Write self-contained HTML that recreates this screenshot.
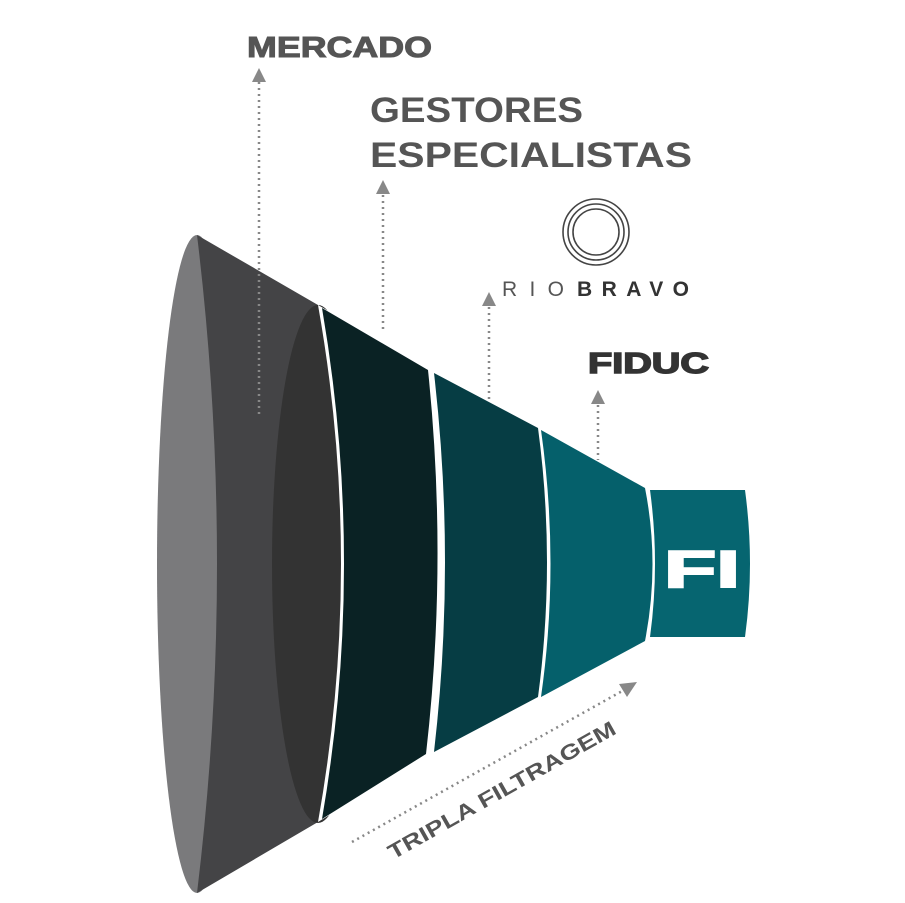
<!DOCTYPE html>
<html><head><meta charset="utf-8"><style>
html,body{margin:0;padding:0;background:#fff;}
svg{display:block;}
text{font-family:"Liberation Sans",sans-serif;font-weight:bold;}
</style></head><body>
<svg width="905" height="903" viewBox="0 0 905 903" xmlns="http://www.w3.org/2000/svg">
<ellipse cx="197" cy="564" rx="40" ry="329" fill="#7a7a7c"/>
<path d="M197,235 L318,305 L318,822 L197,893 Q237,564 197,235 Z" fill="#444446"/>
<ellipse cx="318" cy="564" rx="46" ry="259" fill="#333333"/>
<path d="M318,305 L430,370 Q452,562 428,755 L318,822 Q364,564 318,305 Z" fill="#fff"/>
<path d="M322,308 L428,370 Q448,562 426,754 L322,819 Q366,564 322,308 Z" fill="#0a2224"/>
<path d="M434,373 L538,428 Q556,562 538,697 L434,752 Q456,562 434,373 Z" fill="#063d44"/>
<path d="M541,430 L645,488 Q660,564 645,641 L541,697 Q560,564 541,430 Z" fill="#05606b"/>
<path d="M650,490 L745,490 Q755,564 745,637 L650,637 Q660,564 650,490 Z" fill="#066570"/>
<text x="664" y="587" font-size="52" fill="#fff" stroke="#fff" stroke-width="2" textLength="76" lengthAdjust="spacingAndGlyphs">FI</text>
<g stroke="#888" stroke-width="2.5" stroke-dasharray="2 4" fill="none">
<line x1="259" y1="82" x2="259" y2="415"/>
<line x1="383" y1="195" x2="383" y2="330"/>
<line x1="489" y1="307" x2="489" y2="400"/>
<line x1="598" y1="405" x2="598" y2="460"/>
<line x1="352" y1="842" x2="624" y2="690"/>
</g>
<g fill="#888">
<polygon points="259,68 252,82 266,82"/>
<polygon points="383,180 376,194 390,194"/>
<polygon points="489,292 482,306 496,306"/>
<polygon points="598,390 591,404 605,404"/>
<polygon points="637,682 619,684 627,697"/>
</g>
<text x="247" y="57" font-size="29" fill="#555" stroke="#555" stroke-width="1" textLength="185" lengthAdjust="spacingAndGlyphs">MERCADO</text>
<text x="370" y="122" font-size="35" fill="#555" textLength="213" lengthAdjust="spacingAndGlyphs">GESTORES</text>
<text x="370" y="167" font-size="35" fill="#555" textLength="322" lengthAdjust="spacingAndGlyphs">ESPECIALISTAS</text>
<text x="588" y="373" font-size="29" fill="#333" stroke="#333" stroke-width="1.5" textLength="121" lengthAdjust="spacingAndGlyphs">FIDUC</text>
<text x="502" y="296" font-size="21" fill="#555" style="font-weight:normal" textLength="62" lengthAdjust="spacing">RIO</text>
<text x="577" y="296" font-size="21" fill="#333" textLength="112" lengthAdjust="spacing">BRAVO</text>
<g fill="none" stroke="#444" stroke-width="1.6">
<circle cx="596" cy="232" r="33"/>
<circle cx="596" cy="232" r="28"/>
<circle cx="596" cy="232" r="23"/>
</g>
<text x="0" y="0" font-size="21" fill="#555" transform="translate(393,860) rotate(-29.5)" textLength="258" lengthAdjust="spacingAndGlyphs">TRIPLA FILTRAGEM</text>
</svg>
</body></html>
